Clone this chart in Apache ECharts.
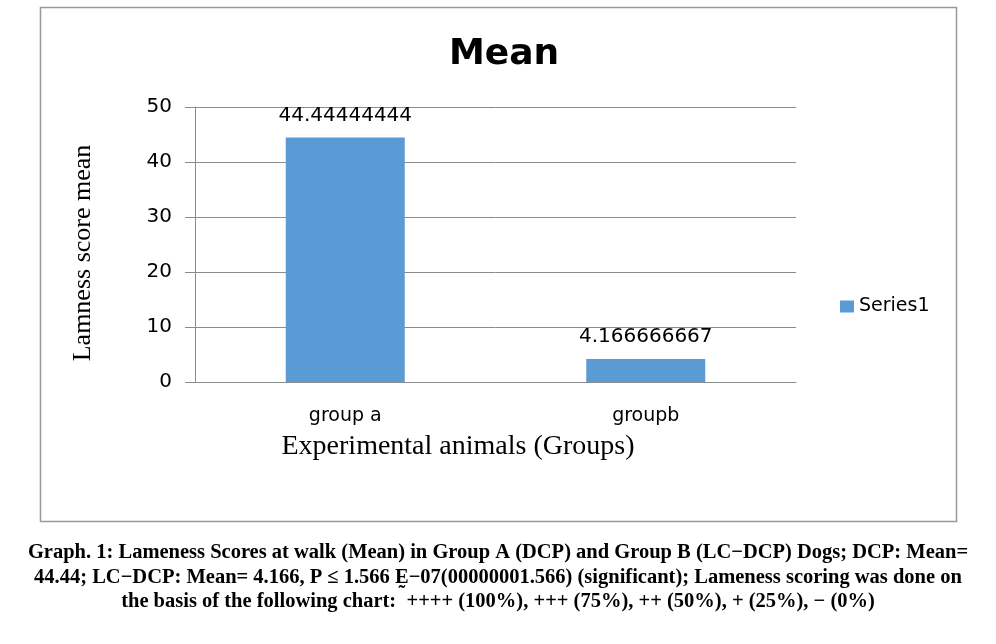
<!DOCTYPE html>
<html>
<head>
<meta charset="utf-8">
<title>Mean</title>
<script src="https://cdn.jsdelivr.net/npm/echarts@6/dist/echarts.min.js"></script>
<style>
  html, body { margin: 0; padding: 0; background: #fff; }
  #chart { width: 996px; height: 644px; }
</style>
</head>
<body>
<div id="chart"></div>
<script>
var groups = ['group a', 'groupb'];
var meanScores = [44.44444444, 4.166666667];
var yTicks = { min: 0, max: 50, interval: 10 };
var captionLines = [
  'Graph. 1: Lameness Scores at walk (Mean) in Group A (DCP) and Group B (LC\u2212DCP) Dogs; DCP: Mean=',
  '44.44; LC\u2212DCP: Mean= 4.166, P \u2264 1.566 \u1E1A\u221207(00000001.566) (significant); Lameness scoring was done on',
  'the basis of the following chart:  ++++ (100%), +++ (75%), ++ (50%), + (25%), \u2212 (0%)'
];

var gray = '#8c8c8c';
var sans = 'DejaVu Sans';
var serif = 'Liberation Serif';

var myChart = echarts.init(document.getElementById('chart'));

var captionGraphics = captionLines.map(function(line, i) {
  return {
    type: 'text',
    x: 498,
    y: 553 + i * 24.5,
    style: {
      text: line,
      fontFamily: serif,
      fontWeight: 'bold',
      fontSize: 20.5,
      fill: '#000',
      align: 'center',
      verticalAlign: 'middle'
    }
  };
});

myChart.setOption({
  backgroundColor: '#fff',
  animation: false,
  color: ['#5B9BD5'],
  title: {
    text: 'Mean',
    left: 499,
    top: 32,
    textAlign: 'center',
    textStyle: {
      fontFamily: sans,
      fontWeight: 'bold',
      fontSize: 36,
      color: '#000'
    }
  },
  legend: {
    left: 835,
    top: 292,
    icon: 'rect',
    itemWidth: 14,
    itemHeight: 12,
    itemGap: 6,
    textStyle: { fontFamily: sans, fontSize: 19, color: '#000' },
    data: ['Series1']
  },
  grid: {
    left: 195,
    right: 200,
    top: 107,
    bottom: 262
  },
  xAxis: {
    type: 'category',
    data: groups,
    axisLine: { lineStyle: { color: gray, width: 1 } },
    axisTick: { length: 7, lineStyle: { color: gray } },
    axisLabel: {
      margin: 25,
      fontFamily: sans,
      fontSize: 19,
      color: '#000'
    }
  },
  yAxis: {
    type: 'value',
    min: yTicks.min,
    max: yTicks.max,
    interval: yTicks.interval,
    axisLine: { show: true, lineStyle: { color: gray, width: 1 } },
    axisTick: { show: true, length: 10, lineStyle: { color: gray } },
    splitLine: { lineStyle: { color: gray, width: 1 } },
    axisLabel: {
      margin: 23,
      fontFamily: sans,
      fontSize: 20,
      color: '#000'
    }
  },
  series: [
    {
      name: 'Series1',
      type: 'bar',
      barWidth: 119,
      data: meanScores,
      label: {
        show: true,
        position: 'top',
        distance: 12,
        fontFamily: sans,
        fontSize: 20,
        color: '#000',
        formatter: function(p) { return String(p.value); }
      }
    }
  ],
  graphic: [
    {
      type: 'rect',
      shape: { x: 40.5, y: 7.5, width: 916, height: 514 },
      style: { fill: null, stroke: '#999', lineWidth: 1.5 },
      silent: true
    },
    {
      type: 'text',
      x: 458,
      y: 447,
      style: {
        text: 'Experimental animals (Groups)',
        fontFamily: serif,
        fontSize: 28,
        fill: '#000',
        align: 'center',
        verticalAlign: 'middle'
      }
    },
    {
      type: 'text',
      x: 83,
      y: 253,
      rotation: Math.PI / 2,
      style: {
        text: 'Lamness score mean',
        fontFamily: serif,
        fontSize: 26,
        fill: '#000',
        align: 'center',
        verticalAlign: 'middle'
      }
    }
  ].concat(captionGraphics)
});
</script>
</body>
</html>
